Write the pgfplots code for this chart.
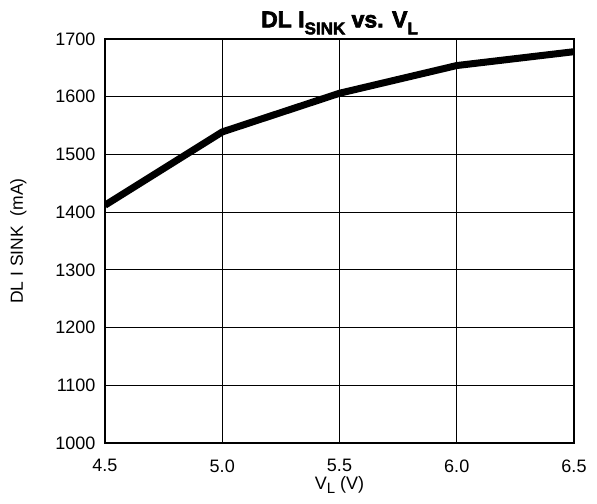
\documentclass[border=0pt]{standalone}
\usepackage{pgfplots}
\pgfplotsset{compat=1.18}
\usepackage{fontspec}
\setmainfont{Liberation Sans}
\newfontfamily\heavy[FakeBold=3]{Liberation Sans Bold}
\begin{document}
\begin{tikzpicture}
\begin{axis}[
  name=ax,
  scale only axis,
  width=469pt, height=404pt,
  xmin=4.5, xmax=6.5, ymin=1000, ymax=1700,
  xtick={4.5,5.0,5.5,6.0,6.5},
  xticklabels={4.5,5.0,5.5,6.0,6.5},
  ytick={1000,1100,...,1700},
  /pgf/number format/assume math mode=true,
  yticklabel style={/pgf/number format/1000 sep={}, xshift=-6pt},
  xticklabel style={yshift=-13pt},
  tick label style={font=\fontsize{18}{20}\selectfont},
  grid=major,
  grid style={black, line width=1.1pt},
  axis line style={black, line width=1.3pt},
  tick style={draw=none},
  xlabel={V\raisebox{-0.22em}{\fontsize{15}{17}\selectfont L} (V)},
  ylabel={DL I SINK\ \ (mA)},
  xlabel style={font=\fontsize{18}{20}\selectfont, yshift=3pt},
  ylabel style={font=\fontsize{17.5}{20}\selectfont, yshift=22pt},
  title={\heavy DL I\raisebox{-0.3em}{\fontsize{17}{18}\selectfont SINK} vs. V\raisebox{-0.3em}{\fontsize{17}{18}\selectfont L}},
  title style={font=\fontsize{23}{25}\selectfont, yshift=-5pt},
]
\addplot[black, line width=7pt, line join=round] coordinates {
  (4.5,1412) (5.0,1539) (5.5,1606) (6.0,1654) (6.5,1678)
};
\end{axis}
\path (ax.south west) ++(-105pt,-61pt) coordinate (bl);
\path (ax.north east) ++(23pt,39pt) coordinate (tr);
\path[use as bounding box] (bl) rectangle (tr);
\end{tikzpicture}
\end{document}
